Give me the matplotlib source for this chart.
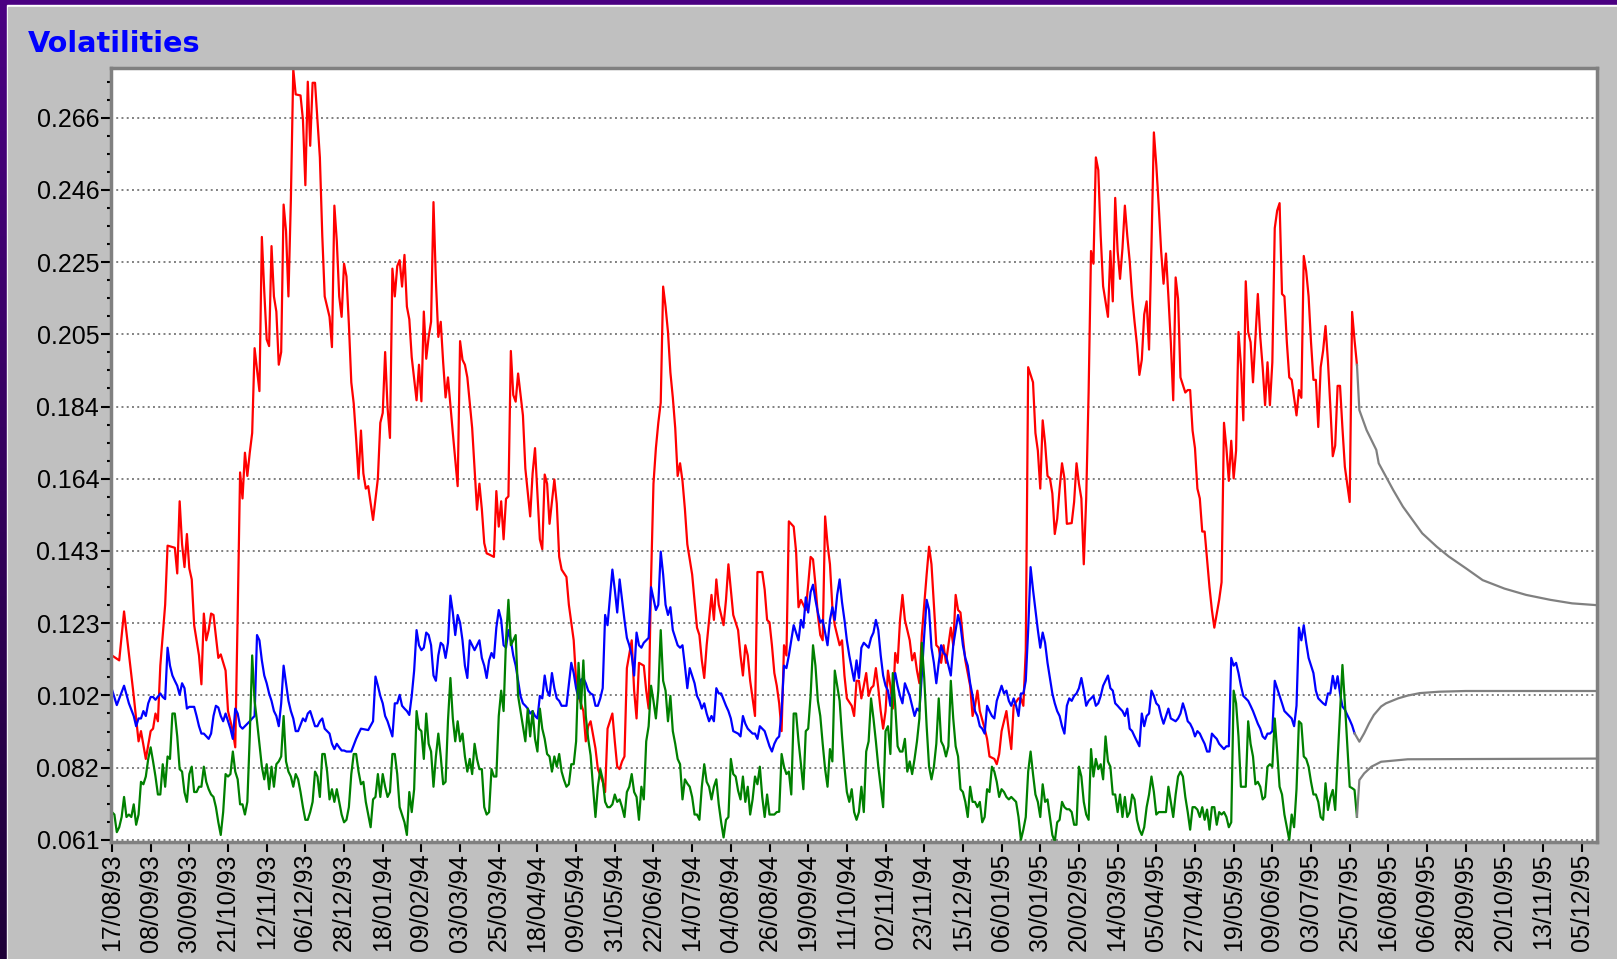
import numpy as np
import matplotlib
matplotlib.use("Agg")
import matplotlib.pyplot as plt
from matplotlib.colors import LinearSegmentedColormap
from matplotlib.patches import Rectangle
from matplotlib.ticker import AutoMinorLocator

plt.rcParams['font.family'] = ['Liberation Sans', 'DejaVu Sans']

# x is the trading-day index, 0 = 17/08/93; one date label every 16 trading days
date_labels = ["17/08/93", "08/09/93", "30/09/93", "21/10/93", "12/11/93", "06/12/93",
               "28/12/93", "18/01/94", "09/02/94", "03/03/94", "25/03/94", "18/04/94",
               "09/05/94", "31/05/94", "22/06/94", "14/07/94", "04/08/94", "26/08/94",
               "19/09/94", "11/10/94", "02/11/94", "23/11/94", "15/12/94", "06/01/95",
               "30/01/95", "20/02/95", "14/03/95", "05/04/95", "27/04/95", "19/05/95",
               "09/06/95", "03/07/95", "25/07/95", "16/08/95", "06/09/95", "28/09/95",
               "20/10/95", "13/11/95", "05/12/95"]
y_labels = ["0.061", "0.082", "0.102", "0.123", "0.143", "0.164",
            "0.184", "0.205", "0.225", "0.246", "0.266"]

# (day, volatility)
red_pts = np.array([
    (0, .1134), (3, .112), (5, .1259), (8, .1077), (9, .1019), (11, .089), (12, .0919), (14, .084),
    (16, .0919), (17, .0926), (18, .0969), (19, .0947), (20, .1105), (22, .1278), (23, .1446),
    (26, .144), (27, .1367), (28, .1572), (29, .145), (30, .1385), (31, .1479), (32, .1381),
    (33, .135), (34, .122), (36, .1134), (37, .1052), (38, .1253), (39, .1177), (40, .1206),
    (41, .1253), (42, .1249), (44, .1127), (45, .1137), (47, .1091), (48, .0976), (50, .0919),
    (51, .0873), (52, .125), (53, .1654), (54, .158), (55, .171), (56, .1644), (57, .171),
    (58, .1766), (59, .2007), (61, .1885), (62, .2323), (63, .2168), (64, .2032), (65, .2013),
    (66, .2297), (67, .2154), (68, .2111), (69, .196), (70, .1996), (71, .2415), (72, .234),
    (73, .2154), (74, .2427), (75, .280), (76, .2728), (78, .2725), (79, .2656), (80, .247),
    (81, .2764), (82, .2582), (83, .2761), (84, .2761), (86, .2549), (87, .2326), (88, .2154),
    (90, .2096), (91, .201), (92, .2412), (93, .2312), (94, .2154), (95, .2096), (96, .2247),
    (97, .2211), (98, .2075), (99, .191), (100, .185), (101, .175), (102, .1637), (103, .1773),
    (104, .1651), (105, .1608), (106, .1615), (108, .1519), (110, .1637), (111, .1795),
    (112, .1823), (113, .1996), (114, .1838), (115, .1752), (116, .2233), (117, .2154),
    (118, .224), (119, .2257), (120, .2182), (121, .2272), (122, .2125), (123, .2089),
    (124, .1981), (126, .1859), (127, .196), (128, .1856), (129, .2111), (130, .1977),
    (131, .2039), (132, .2082), (133, .2422), (134, .2197), (135, .2039), (136, .2082),
    (137, .1967), (138, .1867), (139, .1924), (141, .1766), (143, .1615), (144, .2027),
    (145, .1974), (146, .196), (147, .1924), (149, .178), (150, .1665), (151, .1548),
    (152, .1622), (153, .155), (154, .1453), (155, .1424), (156, .1421), (158, .1414),
    (159, .1601), (160, .15), (161, .1572), (162, .1464), (163, .1579), (164, .1586),
    (165, .1999), (166, .1874), (167, .1855), (168, .1935), (170, .1816), (171, .1665),
    (173, .1529), (174, .1651), (175, .1723), (176, .1594), (177, .1464), (178, .1436),
    (179, .1648), (180, .1622), (181, .1508), (183, .1634), (184, .1565), (185, .1414),
    (186, .1378), (188, .1357), (189, .1278), (191, .1177), (192, .1062), (193, .1019),
    (195, .0976), (196, .089), (197, .0933), (198, .0947), (200, .087), (201, .0811),
    (203, .0775), (204, .0746), (205, .0926), (207, .0969), (208, .089), (209, .0818),
    (210, .0811), (211, .0833), (212, .0847), (213, .1098), (215, .1177), (216, .1034),
    (217, .0955), (218, .1113), (220, .1105), (221, .1034), (222, .0983), (223, .135),
    (224, .1622), (225, .1723), (226, .1795), (227, .1852), (228, .2182), (229, .2125),
    (230, .2053), (231, .1938), (232, .1867), (233, .178), (234, .1644), (235, .168),
    (236, .163), (237, .155), (238, .145), (240, .1364), (242, .1213), (243, .1192),
    (244, .112), (245, .107), (246, .1163), (247, .1235), (248, .1306), (249, .1235),
    (250, .135), (251, .1278), (253, .122), (254, .1292), (255, .1393), (256, .1321),
    (257, .1249), (259, .1206), (260, .1134), (261, .1077), (262, .1163), (263, .1134),
    (264, .1062), (265, .1012), (266, .0962), (267, .1371), (269, .1371), (270, .1321),
    (271, .1235), (272, .1228), (273, .1163), (274, .1084), (275, .1048), (276, .0998),
    (277, .0919), (278, .1163), (279, .1134), (280, .1515), (282, .15), (283, .1429),
    (284, .1271), (285, .1292), (287, .1263), (288, .1335), (289, .1414), (290, .1407),
    (291, .1335), (292, .1249), (293, .1192), (294, .1177), (295, .1529), (296, .145),
    (297, .1393), (298, .1271), (299, .122), (301, .1163), (302, .1177), (303, .1077),
    (304, .1012), (306, .0991), (307, .0962), (308, .1062), (309, .1062), (310, .1012),
    (312, .1084), (313, .1019), (314, .1041), (315, .1048), (316, .1098), (317, .1041),
    (318, .0976), (319, .0926), (320, .0976), (321, .1091), (322, .1048), (323, .0983),
    (324, .1141), (325, .1113), (326, .1235), (327, .1306), (328, .1235), (330, .1177),
    (331, .112), (332, .1141), (333, .1091), (334, .1055), (335, .1192), (336, .1278),
    (337, .1364), (338, .1443), (339, .1393), (340, .1278), (341, .1163), (342, .1156),
    (343, .1113), (344, .1163), (345, .1113), (347, .1213), (348, .1163), (349, .1306),
    (350, .1263), (351, .1256), (352, .1184), (353, .112), (355, .1048), (356, .0962),
    (357, .0991), (358, .1034), (359, .0976), (361, .0926), (362, .0897), (363, .0847),
    (365, .084), (366, .0825), (367, .0854), (368, .0919), (370, .0976), (371, .0919),
    (372, .0868), (373, .0991), (375, .1012), (376, .1012), (377, .0991), (378, .1148),
    (379, .1953), (381, .191), (382, .1766), (383, .1716), (384, .1608), (385, .1802),
    (386, .1737), (387, .1644), (388, .1637), (389, .1594), (390, .1479), (391, .1522),
    (392, .1608), (393, .168), (394, .1637), (395, .1508), (397, .151), (398, .157),
    (399, .168), (400, .1622), (401, .158), (402, .1393), (403, .158), (404, .1881),
    (405, .2283), (406, .2247), (407, .2549), (408, .2513), (409, .2326), (410, .2183),
    (412, .2096), (413, .2283), (414, .214), (415, .2434), (416, .2283), (417, .2204),
    (418, .229), (419, .2412), (420, .2326), (421, .2254), (422, .2154), (423, .2082),
    (424, .2017), (425, .1931), (426, .1974), (427, .2103), (428, .214), (429, .2003),
    (430, .2297), (431, .262), (432, .2527), (433, .2412), (434, .2283), (435, .219),
    (436, .2276), (437, .2154), (438, .2024), (439, .1859), (440, .2208), (441, .2147),
    (442, .1924), (444, .1881), (445, .1888), (446, .1888), (447, .1773), (448, .1723),
    (449, .1608), (450, .158), (451, .1486), (452, .1486), (453, .1407), (454, .1328),
    (455, .1263), (456, .1213), (458, .1292), (459, .1342), (460, .1795), (461, .1723),
    (462, .163), (463, .1744), (464, .1637), (465, .1716), (466, .2053), (467, .196),
    (468, .1802), (469, .2197), (470, .2053), (471, .2024), (472, .191), (474, .2161),
    (475, .2039), (476, .1953), (477, .1845), (478, .1967), (479, .1845), (480, .1967),
    (481, .2348), (482, .2398), (483, .2419), (484, .2161), (485, .2154), (486, .2024),
    (487, .1924), (488, .1917), (490, .1816), (491, .1888), (492, .1866), (493, .2269),
    (494, .2226), (495, .2154), (496, .2024), (497, .1917), (498, .1917), (499, .1783),
    (500, .1953), (501, .200), (502, .207), (503, .197), (504, .184), (505, .170),
    (506, .173), (507, .190), (508, .190), (509, .178), (510, .167), (511, .162),
    (512, .157), (513, .211), (514, .203), (515, .196)])

blue_pts = np.array([
    (0, .1037), (2, .0993), (5, .1048), (7, .0998), (9, .0962), (10, .0933), (11, .0955),
    (12, .0955), (13, .0976), (14, .0962), (15, .0998), (16, .1016), (17, .1016), (18, .1008),
    (20, .1026), (21, .1016), (22, .101), (23, .1156), (24, .1105), (25, .1077), (26, .1062),
    (27, .1048), (28, .1022), (29, .1055), (30, .1041), (31, .0983), (32, .0988), (34, .0988),
    (35, .0962), (36, .0933), (37, .0912), (38, .0912), (40, .0897), (41, .0912), (42, .0962),
    (43, .0991), (44, .0986), (45, .0962), (46, .0947), (47, .0969), (48, .0947), (49, .0926),
    (50, .0897), (51, .0983), (52, .0969), (53, .0933), (54, .0926), (55, .0933), (57, .0947),
    (58, .0955), (59, .0962), (60, .1192), (61, .1177), (62, .112), (63, .1077), (64, .1055),
    (65, .1026), (66, .1005), (67, .0976), (68, .0962), (69, .0933), (70, .0998), (71, .1105),
    (72, .1055), (73, .1005), (74, .0976), (75, .0955), (76, .0919), (77, .0919), (79, .0955),
    (80, .0947), (81, .0969), (82, .0976), (83, .0955), (84, .0933), (85, .0933), (86, .0947),
    (87, .0955), (88, .0926), (90, .0912), (91, .0883), (92, .0868), (93, .0883), (94, .0873),
    (95, .0864), (96, .0864), (97, .0861), (98, .0861), (99, .0861), (101, .0897), (102, .0912),
    (103, .0926), (106, .0922), (108, .0947), (109, .1074), (110, .1048), (111, .1019),
    (112, .0998), (113, .0962), (114, .0947), (115, .0926), (116, .0904), (117, .0998),
    (118, .0998), (119, .1022), (120, .0991), (121, .0983), (122, .0976), (123, .0965),
    (124, .1019), (125, .1091), (126, .1206), (127, .1163), (128, .1149), (129, .1156),
    (130, .1199), (131, .1192), (132, .1163), (133, .1077), (134, .1062), (135, .1134),
    (136, .117), (137, .1163), (138, .1127), (139, .117), (140, .1304), (141, .1256),
    (142, .1192), (143, .1249), (144, .1227), (145, .1177), (146, .1105), (147, .107),
    (148, .1177), (149, .1163), (150, .1149), (152, .1177), (153, .1127), (154, .1105),
    (155, .107), (156, .112), (157, .1141), (158, .1127), (159, .1213), (160, .1263),
    (161, .1235), (162, .1163), (163, .1156), (164, .1206), (165, .1177), (166, .1134),
    (167, .1105), (168, .1062), (169, .1019), (170, .0998), (171, .0991), (172, .0983),
    (173, .0969), (174, .0976), (175, .0962), (176, .0955), (177, .1019), (178, .1012),
    (179, .1077), (180, .1034), (181, .1019), (182, .1084), (183, .1041), (184, .1012),
    (185, .1005), (186, .0991), (188, .0991), (190, .1113), (191, .1084), (192, .1041),
    (193, .1012), (194, .1065), (195, .107), (196, .1055), (197, .1034), (198, .1026),
    (199, .1022), (200, .0991), (201, .0991), (202, .1012), (203, .1041), (204, .1249),
    (205, .122), (207, .1378), (208, .1321), (209, .1256), (210, .135), (211, .1292),
    (212, .1235), (213, .1184), (214, .1163), (215, .1134), (216, .1077), (217, .1199),
    (218, .1163), (219, .1156), (220, .117), (222, .1184), (223, .1328), (225, .1263),
    (226, .1278), (227, .1429), (228, .1364), (229, .1278), (230, .1249), (231, .1271),
    (232, .1206), (234, .1163), (235, .1156), (236, .1163), (237, .1105), (238, .1041),
    (239, .1098), (240, .1077), (241, .1055), (242, .1019), (243, .1005), (244, .0983),
    (245, .0998), (246, .0969), (247, .0947), (248, .0962), (249, .0947), (250, .1041),
    (251, .1026), (252, .1026), (254, .0991), (255, .0976), (256, .0955), (257, .0919),
    (259, .0912), (260, .0904), (261, .0962), (262, .094), (263, .0926), (265, .0912),
    (266, .0912), (267, .0897), (268, .0933), (270, .0919), (271, .0897), (272, .0876),
    (273, .0861), (274, .0883), (275, .0897), (276, .0904), (277, .0976), (278, .1105),
    (279, .1098), (280, .1134), (281, .1177), (282, .122), (283, .1199), (284, .1177),
    (285, .1235), (286, .1213), (287, .1299), (288, .1256), (289, .1314), (290, .1335),
    (291, .1292), (292, .1256), (293, .1228), (294, .1235), (295, .1199), (296, .1163),
    (297, .1235), (298, .1271), (299, .1235), (300, .1306), (301, .135), (302, .1285),
    (303, .1235), (304, .1177), (305, .1134), (306, .1098), (307, .1062), (308, .112),
    (309, .107), (310, .1156), (311, .117), (313, .1156), (314, .1184), (315, .1199),
    (316, .1235), (317, .1206), (318, .1134), (319, .1077), (320, .1048), (321, .1034),
    (322, .0991), (323, .1048), (324, .1084), (325, .1048), (326, .1019), (327, .0998),
    (328, .1055), (330, .1019), (331, .0991), (332, .0962), (333, .0983), (334, .0976),
    (335, .1077), (336, .1192), (337, .1292), (338, .1263), (339, .1156), (340, .1113),
    (341, .1055), (342, .1113), (343, .1163), (344, .1141), (345, .1134), (346, .1105),
    (347, .1077), (348, .1163), (350, .1249), (351, .122), (352, .1163), (353, .1127),
    (354, .1105), (355, .1055), (356, .1019), (357, .0976), (358, .0962), (359, .0933),
    (360, .0926), (361, .0912), (362, .0991), (363, .0976), (364, .0962), (365, .0955),
    (366, .1005), (368, .1048), (369, .1026), (370, .1034), (371, .1005), (372, .0991),
    (373, .1012), (374, .0991), (375, .0962), (376, .1026), (377, .1026), (378, .1062),
    (379, .1206), (380, .1385), (381, .1321), (382, .1263), (383, .1206), (384, .1156),
    (385, .1199), (386, .117), (387, .1113), (388, .107), (389, .1026), (390, .0998),
    (391, .0976), (392, .0962), (393, .0933), (394, .0912), (395, .0991), (396, .1012),
    (397, .1005), (398, .1019), (399, .1026), (400, .1041), (401, .107), (402, .1034),
    (403, .0991), (404, .1005), (405, .1012), (406, .1019), (407, .0991), (408, .0998),
    (409, .1019), (410, .1048), (412, .1077), (413, .1041), (414, .1034), (415, .0998),
    (416, .0991), (417, .0983), (418, .0976), (419, .0962), (420, .0983), (421, .0926),
    (422, .0919), (423, .0904), (424, .089), (425, .0876), (426, .0969), (427, .0933),
    (428, .0962), (429, .0969), (430, .1034), (431, .1019), (432, .0998), (433, .0991),
    (434, .0962), (435, .094), (436, .0962), (437, .0983), (438, .0955), (440, .0947),
    (441, .0955), (442, .0969), (443, .0998), (444, .0976), (445, .0947), (446, .094),
    (447, .0926), (448, .0904), (449, .0919), (450, .0912), (451, .0897), (452, .0883),
    (453, .0861), (454, .0861), (455, .0912), (456, .0904), (457, .0897), (458, .0883),
    (460, .0868), (461, .0876), (462, .0876), (463, .1127), (464, .1105), (465, .1113),
    (466, .1084), (467, .1048), (468, .1019), (469, .1012), (470, .1005), (471, .0991),
    (472, .0976), (474, .094), (475, .0926), (476, .0904), (477, .0897), (478, .0912),
    (479, .0912), (480, .0919), (481, .1062), (482, .1041), (483, .1019), (484, .0998),
    (485, .0976), (486, .0969), (487, .0962), (488, .0955), (489, .0933), (490, .0991),
    (491, .1213), (492, .1177), (493, .122), (494, .117), (495, .1127), (497, .1084),
    (498, .1034), (499, .1012), (500, .1005), (501, .0998), (502, .0993), (503, .1026),
    (504, .1026), (505, .1076), (506, .104), (507, .1075), (508, .1026), (509, .0989),
    (510, .098), (511, .0965), (512, .0951), (513, .0935), (514, .0913)])

# one value per trading day, day 0 .. 515
green_vol = [
    .0689, .0682, .0632, .0646, .0675, .0732, .0675, .0682, .0675, .0711,
    .0653, .0682, .0775, .0768, .079, .084, .0873, .0833, .079, .0739,
    .0739, .0825, .0761, .0847, .084, .0969, .0969, .0904, .0811, .0804,
    .0745, .0718, .0797, .0818, .0746, .0746, .0761, .0761, .0818, .0775,
    .0754, .0739, .0732, .0703, .066, .0624, .0689, .0797, .079, .0797,
    .0861, .0804, .0782, .0711, .0711, .0682, .0718, .0904, .1134, .1005,
    .0947, .0883, .0818, .0782, .0825, .0754, .0818, .0761, .0825, .0833,
    .0847, .0962, .0833, .0804, .079, .0761, .0797, .0782, .0746, .0703,
    .0667, .0667, .0689, .0718, .0804, .079, .0732, .0854, .0854, .0804,
    .0725, .0754, .0718, .0754, .0718, .0682, .066, .0667, .0703, .0797,
    .0854, .0854, .0804, .0768, .0775, .0718, .0682, .0646, .0725, .0732,
    .0797, .0732, .0797, .0761, .0732, .0746, .0854, .0854, .0797, .0703,
    .0682, .066, .0624, .0746, .0689, .0754, .0976, .0926, .0919, .084,
    .0969, .0883, .0861, .0761, .0847, .0912, .0847, .0768, .0775, .095,
    .107, .0955, .089, .0947, .089, .0912, .0847, .0804, .084, .0797,
    .0883, .084, .0811, .0811, .0703, .0682, .0689, .0811, .079, .079,
    .0962, .1034, .0976, .1177, .1292, .1163, .1177, .1192, .1019, .0976,
    .0935, .089, .0983, .0904, .0976, .0897, .0861, .0983, .0926, .0897,
    .0854, .0847, .0804, .0847, .0818, .0854, .0804, .078, .0761, .0768,
    .0825, .0825, .089, .1113, .0983, .112, .0962, .0897, .085, .076,
    .0675, .0761, .0811, .0782, .0718, .0703, .0703, .0711, .0739, .0718,
    .0725, .0703, .0675, .0746, .0761, .0797, .0746, .0732, .0667, .0761,
    .0725, .089, .0933, .1048, .1005, .0955, .1034, .1206, .1062, .1034,
    .0947, .1019, .0919, .0883, .084, .0825, .0725, .0782, .077, .0761,
    .0732, .0682, .0682, .0667, .0761, .0825, .0775, .0761, .0725, .0761,
    .0782, .0711, .066, .0617, .0667, .0675, .084, .0797, .079, .075,
    .0725, .079, .0718, .0761, .0682, .0725, .079, .0768, .0818, .0732,
    .0675, .0739, .0682, .0682, .0682, .0689, .069, .0854, .0818, .0797,
    .0804, .0739, .0969, .0969, .089, .0825, .0754, .0919, .0926, .1019,
    .1163, .1105, .1005, .0962, .0883, .0811, .0761, .0868, .0833, .1091,
    .1048, .1005, .0904, .0818, .0746, .0718, .0754, .0689, .0667, .0689,
    .0761, .0689, .0861, .089, .1012, .0955, .089, .0818, .0761, .0703,
    .0919, .0933, .0854, .1084, .0991, .0876, .0861, .0861, .0897, .0804,
    .0833, .0797, .084, .089, .0955, .117, .107, .0933, .0818, .0782,
    .0818, .0883, .1012, .089, .0876, .0847, .0876, .1062, .0955, .0876,
    .0847, .0754, .0746, .0718, .0675, .0761, .0718, .0718, .0703, .0718,
    .066, .0675, .0754, .0746, .0818, .0804, .0775, .0732, .0754, .0746,
    .0732, .0725, .0732, .0725, .0718, .0675, .061, .0639, .0675, .0804,
    .0861, .0797, .0739, .0718, .0675, .0768, .0718, .0725, .0675, .0624,
    .0605, .066, .0667, .0718, .0703, .0697, .0697, .0689, .0653, .0653,
    .0818, .079, .0718, .0682, .0667, .0868, .079, .084, .0811, .0825,
    .0782, .0904, .0833, .0818, .0739, .0739, .0689, .0739, .0675, .0732,
    .0675, .0689, .0739, .0725, .0667, .0639, .0624, .0646, .0703, .0739,
    .079, .0746, .0682, .0689, .0689, .0689, .0689, .0761, .0718, .0675,
    .0739, .079, .0804, .079, .0732, .0689, .0639, .0703, .0703, .0696,
    .0675, .0703, .0667, .0696, .0639, .0703, .0703, .0653, .0689, .0682,
    .0689, .0675, .0646, .066, .1034, .0998, .0904, .0761, .0761, .0761,
    .0947, .0883, .0847, .0768, .0775, .0761, .0725, .0732, .0818, .0825,
    .0818, .0955, .0861, .0761, .0739, .0682, .0646, .061, .0682, .0646,
    .0754, .0947, .094, .0847, .084, .0818, .0775, .0739, .0739, .0718,
    .0675, .0667, .0771, .0695, .073, .0752, .0695, .0837, .097, .1107,
    .1, .088, .0761, .0757, .0752, .0676]

# projected paths after the last observation
red_fc = np.array([(515, .196), (516, .1831), (519, .1774), (523, .1718), (524, .168),
                   (527, .1642), (530, .1604), (534, .1557), (538, .1519), (542, .1481),
                   (548, .1443), (553, .1415), (560, .1382), (567, .1348), (576, .1324),
                   (585, .1306), (595, .1292), (604, .1282), (614, .1277)])
blue_fc = np.array([(514, .0913), (516, .0889), (518, .0913), (520, .0941), (522, .0965),
                    (525, .0989), (527, .0998), (532, .1012), (536, .102), (541, .1027),
                    (549, .1031), (560, .1033), (614, .1033)])
green_fc = np.array([(515, .0676), (516, .078), (518, .0799), (521, .0818), (525, .0832),
                     (536, .0839), (614, .0841)])

W, H = 1617, 959
fig = plt.figure(figsize=(W / 100, H / 100), dpi=100)

# purple frame darkening downwards, thin white edge, grey panel
bg = fig.add_axes([0, 0, 1, 1], zorder=-10)
frame_cmap = LinearSegmentedColormap.from_list("frame", ["#4b0082", "#1e0038"])
bg.imshow(np.linspace(0, 1, 256)[:, None], aspect="auto", cmap=frame_cmap, extent=[0, 1, 0, 1])
bg.add_patch(Rectangle((7 / W, 0), 1, 1 - 5 / H, color="white"))
bg.add_patch(Rectangle((8 / W, 0), 1, 1 - 7 / H, color="#c0c0c0"))
bg.set_xlim(0, 1)
bg.set_ylim(0, 1)
bg.axis("off")

ax = fig.add_axes([111 / W, 1 - 842 / H, (1597 - 111) / W, (842 - 68) / H])
ax.set_facecolor("white")

ax.plot(red_pts[:, 0], red_pts[:, 1], color="#ff0000", lw=1.6)
ax.plot(blue_pts[:, 0], blue_pts[:, 1], color="#0000ff", lw=1.6)
ax.plot(np.arange(len(green_vol)), green_vol, color="#008000", lw=1.6)
for fc in (red_fc, blue_fc, green_fc):
    ax.plot(fc[:, 0], fc[:, 1], color="#808080", lw=1.6)

ax.set_xlim(-0.4, 614.3)
ax.set_ylim(0.0604, 0.2803)

ax.set_yticks(np.linspace(0.061, 0.2662, len(y_labels)))
ax.set_yticklabels(y_labels)
ax.yaxis.set_minor_locator(AutoMinorLocator(4))
ax.set_xticks(np.arange(len(date_labels)) * 16)
ax.set_xticklabels(date_labels, rotation=90)

ax.grid(axis="y", which="major", color="#808080", linestyle=(0, (1, 1.7)), lw=1.4)
ax.tick_params(axis="both", which="major", length=7, width=1.5, color="black",
               labelsize=18, pad=1.5)
ax.tick_params(axis="y", which="minor", length=3, width=1.5, color="black")
for s in ax.spines.values():
    s.set_color("#808080")
    s.set_linewidth(2.5)

fig.text(28 / W, 1 - 52 / H, "Volatilities", color="#0000ff", fontsize=20.7,
         fontweight="bold", family="DejaVu Sans", va="baseline")

fig.savefig("out.png", dpi=100)
